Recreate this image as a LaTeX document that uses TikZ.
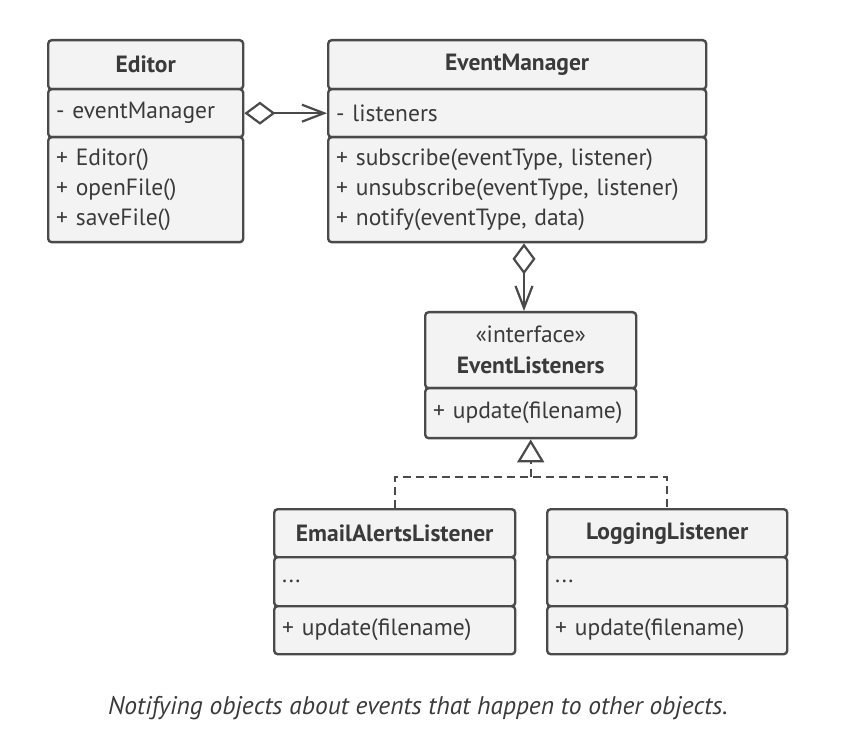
\documentclass[tikz,border=0pt]{standalone}
\usepackage{fontspec}
\setmainfont{PT Sans}
\usetikzlibrary{arrows.meta,calc}
\definecolor{linegray}{HTML}{4A4A4A}
\definecolor{boxgray}{HTML}{F3F3F3}
\definecolor{textgray}{HTML}{3A3A3A}
\newcommand{\umlfont}{\fontsize{23.5}{30}\selectfont}
\tikzstyle{compart}=[draw=linegray, fill=boxgray, line width=2.4pt, rounded corners=3.5pt,
  anchor=north west, inner xsep=8pt, inner ysep=0pt, text=textgray, font=\umlfont]
\tikzstyle{head}=[compart, align=center, font=\umlfont\bfseries]
\tikzstyle{members}=[compart, align=left]
\tikzstyle{agg}=[draw=linegray, line width=2.2pt,
  {Diamond[open,length=31pt,width=23pt,line width=2.2pt]}-{Straight Barb[length=22pt,width=17pt,line width=2.2pt]}]
\tikzstyle{realize}=[draw=linegray, line width=2.2pt, dash pattern=on 8pt off 5pt,
  -{Triangle[open,length=23pt,width=27pt,line width=2.2pt]}]

\begin{document}
\begin{tikzpicture}[x=1pt,y=-1pt]
\useasboundingbox (0,0) rectangle (844,751);
% Editor
\node (edhead) [head, text width=179pt, minimum height=49pt] at (47,39) {Editor};
\node (edattr) [members, text width=179pt, minimum height=48pt] at (47,88) {- eventManager};
\node (edops) [members, text width=179pt, minimum height=105pt] at (47,136)
  {+ Editor()\\+ openFile()\\+ saveFile()};
% EventManager
\node (mghead) [head, text width=362pt, minimum height=49pt] at (327,39) {EventManager};
\node (mgattr) [members, text width=362pt, minimum height=48pt] at (327,88) {- listeners};
\node (mgops) [members, text width=362pt, minimum height=105pt] at (327,136)
  {+ subscribe(eventType, listener)\\+ unsubscribe(eventType, listener)\\+ notify(eventType, data)};
% interface
\node (ifhead) [head, text width=195pt, minimum height=76pt, font=\fontsize{23.5}{31}\selectfont] at (424,311)
  {«interface»\\\textbf{EventListeners}};
\node (ifops) [members, text width=195pt, minimum height=50pt] at (424,387) {+ update(filename)};
% listeners
\node (emhead) [head, text width=225pt, minimum height=48pt] at (273,508) {EmailAlertsListener};
\node (emattr) [members, text width=225pt, minimum height=49pt] at (273,556) {...};
\node (emops) [members, text width=225pt, minimum height=48pt] at (273,605) {+ update(filename)};
\node (lghead) [head, text width=224pt, minimum height=48pt] at (546,508) {LoggingListener};
\node (lgattr) [members, text width=224pt, minimum height=49pt] at (546,556) {...};
\node (lgops) [members, text width=224pt, minimum height=48pt] at (546,605) {+ update(filename)};
% caption
\node (caption) [text=textgray, font=\fontsize{25.5}{30}\selectfont\itshape] at (418,708)
  {Notifying objects about events that happen to other objects.};

\coordinate (aggx) at (524,0);
\coordinate (split) at (530,477);
\draw[agg] (edattr.east) -- (mgattr.west);
\draw[agg] (mgops.south -| aggx) -- (ifhead.north -| aggx);
\draw[realize] (ifops.south |- split) -- (ifops.south);
\draw[draw=linegray, line width=2.2pt, dash pattern=on 8pt off 5pt]
  (emhead.north) |- (split) -| (lghead.north);
\end{tikzpicture}
\end{document}
